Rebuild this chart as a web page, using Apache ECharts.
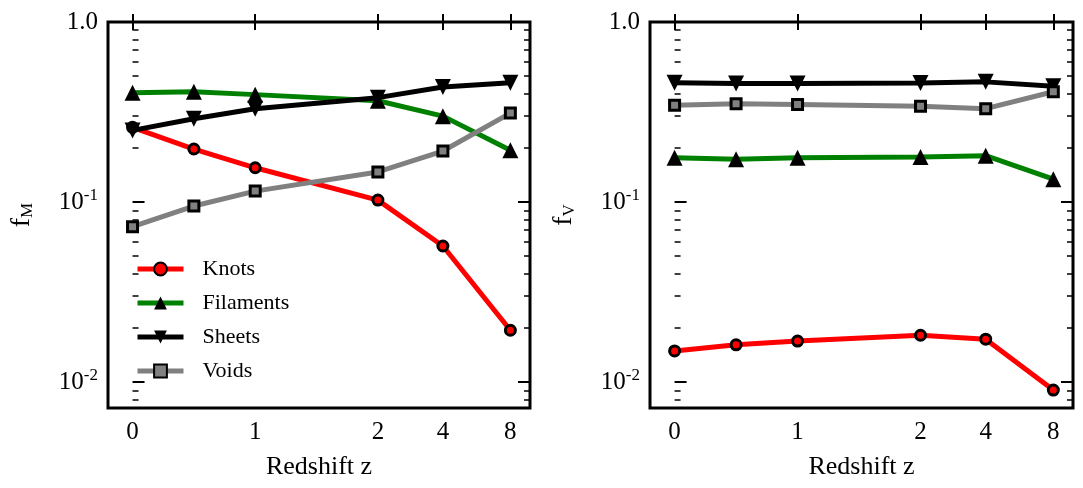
<!DOCTYPE html>
<html><head><meta charset="utf-8">
<script src="https://cdn.jsdelivr.net/npm/echarts@6/dist/echarts.min.js"></script>
<style>body{margin:0}#c{width:1083px;height:488px}</style></head>
<body><div id="c"></div>
<script>
// redshift samples and where they sit on the (stretched) x axis
var redshift = [0, 0.5, 1, 2, 4, 8];
var xPos = [0, 0.5, 1, 2, 2.53, 3.08];
var xTickPos = [0, 1, 2, 2.53, 3.08];
var xTickLabels = ['0', '1', '2', '4', '8'];

// mass fractions
var knotsM = [0.26, 0.197, 0.155, 0.1025, 0.057, 0.0194];
var filamentsM = [0.405, 0.41, 0.395, 0.365, 0.30, 0.194];
var sheetsM = [0.25, 0.29, 0.33, 0.38, 0.435, 0.46];
var voidsM = [0.073, 0.095, 0.115, 0.147, 0.192, 0.312];
// volume fractions
var knotsV = [0.0149, 0.0161, 0.0169, 0.0182, 0.0173, 0.00903];
var filamentsV = [0.176, 0.173, 0.176, 0.178, 0.181, 0.134];
var sheetsV = [0.46, 0.455, 0.455, 0.458, 0.465, 0.44];
var voidsV = [0.345, 0.352, 0.348, 0.34, 0.33, 0.41];

var font = 'Liberation Serif';
var yMin = -2.144, yMax = 0;
var majors = [-2, -1, 0];
var minors = [];
[-3, -2, -1].forEach(function (d) { for (var k = 2; k <= 9; k++) { var v = d + Math.log10(k); if (v > yMin) minors.push(v); } });

function lbl(v) {
  if (Math.abs(v) < 1e-6) return '1.0';
  return '10{s|' + Math.round(v) + '}';
}
var grids = [{left: 108, top: 22, width: 422, height: 386}, {left: 650, top: 22, width: 423, height: 386}];
var xAxes = [], yAxes = [], series = [];
grids.forEach(function (g, gi) {
  g.show = true; g.borderColor = '#000'; g.borderWidth = 3;
  xAxes.push({type: 'value', gridIndex: gi, min: -0.2, max: 3.24, splitLine: {show: false}, axisLine: {show: false},
    axisTick: {inside: true, length: 8, lineStyle: {width: 2, color: '#000'}, customValues: xTickPos},
    axisLabel: {customValues: xTickPos, formatter: function (v) { var i = xTickPos.indexOf(v); return i >= 0 ? xTickLabels[i] : ''; }, fontFamily: font, fontSize: 25, color: '#000', margin: 12},
    name: 'Redshift z', nameLocation: 'middle', nameGap: 46, nameTextStyle: {fontFamily: font, fontSize: 26, color: '#000'}});
  xAxes.push({type: 'value', gridIndex: gi, position: 'top', min: -0.2, max: 3.24, splitLine: {show: false}, axisLine: {show: false},
    axisTick: {inside: true, length: 8, lineStyle: {width: 2, color: '#000'}, customValues: xTickPos}, axisLabel: {show: false}});
  ['left', 'right'].forEach(function (pos) {
    yAxes.push({type: 'value', gridIndex: gi, position: pos, min: yMin, max: yMax, splitLine: {show: false}, axisLine: {show: false},
      axisTick: {inside: true, length: 12, lineStyle: {width: 2, color: '#000'}, customValues: majors},
      axisLabel: {show: pos === 'left', customValues: majors, formatter: lbl, fontFamily: font, fontSize: 25, color: '#000', margin: 10,
        rich: {s: {fontFamily: font, fontSize: 17, verticalAlign: 'top', padding: [0, 0, 14, 0], color: '#000'}}},
      name: pos === 'left' ? (gi === 0 ? 'f{s|M}' : 'f{s|V}') : '', nameLocation: 'middle', nameGap: 72,
      nameTextStyle: {fontFamily: font, fontSize: 28, color: '#000', rich: {s: {fontFamily: font, fontSize: 17, verticalAlign: 'bottom', padding: [12, 0, 0, 0]}}}});
    yAxes.push({type: 'value', gridIndex: gi, position: pos, min: yMin, max: yMax, splitLine: {show: false}, axisLine: {show: false},
      axisTick: {inside: true, length: 6, lineStyle: {width: 1.5, color: '#000'}, customValues: minors}, axisLabel: {show: false}});
  });
});

function mk(name, vals, gi, color, symbol, size, rot, fill, bw) {
  return {name: name, type: 'line', xAxisIndex: gi * 2, yAxisIndex: gi * 4,
    data: vals.map(function (v, i) { return [xPos[i], Math.log10(v)]; }),
    symbol: symbol, symbolSize: size, symbolRotate: rot, showSymbol: true,
    lineStyle: {color: color, width: 5}, itemStyle: {color: fill, borderColor: '#000', borderWidth: bw}, z: 5};
}
var sets = [[knotsM, filamentsM, sheetsM, voidsM], [knotsV, filamentsV, sheetsV, voidsV]];
sets.forEach(function (s, gi) {
  series.push(mk('Knots', s[0], gi, '#ff0000', 'circle', 10, 0, '#ff0000', 3));
  series.push(mk('Filaments', s[1], gi, '#008000', 'triangle', 16, 0, '#000', 0));
  series.push(mk('Sheets', s[2], gi, '#000', 'triangle', 16, 180, '#000', 0));
  series.push(mk('Voids', s[3], gi, '#808080', 'rect', 10, 0, '#808080', 3));
});

echarts.init(document.getElementById('c')).setOption({
  animation: false,
  grid: grids, xAxis: xAxes, yAxis: yAxes, series: series,
  legend: {orient: 'vertical', left: 130, top: 253, itemGap: 12, itemWidth: 46, itemHeight: 16,
    data: ['Knots', 'Filaments', 'Sheets', 'Voids'],
    lineStyle: {width: 5},
    textStyle: {fontFamily: font, fontSize: 22, color: '#000', padding: [0, 0, 0, 14]}}
});
</script></body></html>
